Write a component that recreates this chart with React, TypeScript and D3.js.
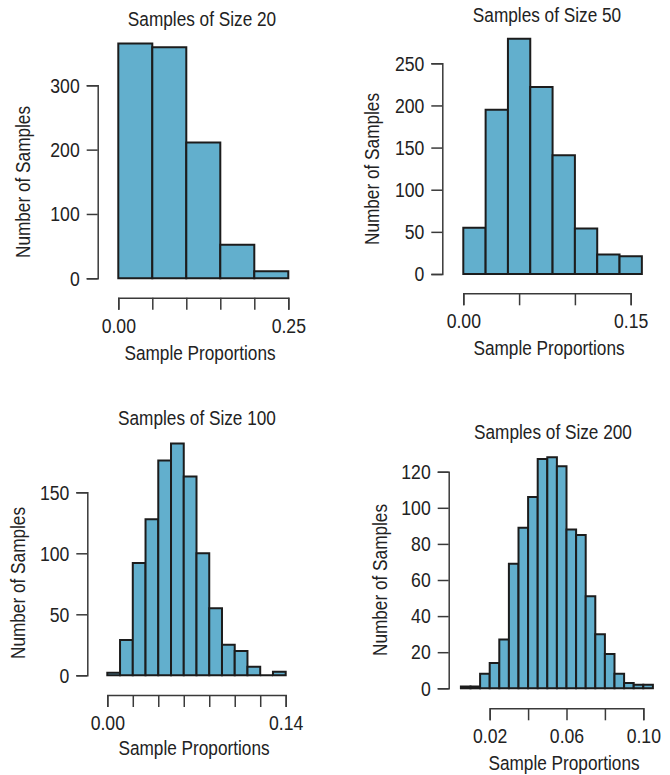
import { useEffect, useRef } from "react";
import * as d3 from "d3";

// Histogram counts (one bar per bin)
const counts20 = [365, 359, 211, 52, 11];
const counts50 = [55, 195, 279, 222, 141, 54, 23, 21];
const counts100 = [2, 29, 92, 128, 176, 190, 163, 100, 55, 25, 20, 7, 0, 3];
const counts200 = [1, 1, 8, 14, 27, 69, 89, 106, 127, 128, 123, 88, 85, 51, 30, 19, 8, 3, 2, 2];

// Bin layout: first edge and bin width
const binStart = [0, 0, 0, 0.005];
const binWidth = [0.05, 0.02, 0.01, 0.005];

const titles = ["Samples of Size 20", "Samples of Size 50", "Samples of Size 100", "Samples of Size 200"];

const xTicks20 = [0, 0.05, 0.1, 0.15, 0.2, 0.25];
const xTicks50 = [0, 0.05, 0.1, 0.15];
const xTicks100 = [0, 0.02, 0.04, 0.06, 0.08, 0.1, 0.12, 0.14];
const xTicks200 = [0.02, 0.04, 0.06, 0.08, 0.1];

const xLabeled20 = [0, 0.25];
const xLabeled50 = [0, 0.15];
const xLabeled100 = [0, 0.14];
const xLabeled200 = [0.02, 0.06, 0.1];

const yTicks20 = [0, 100, 200, 300];
const yTicks50 = [0, 50, 100, 150, 200, 250];
const yTicks100 = [0, 50, 100, 150];
const yTicks200 = [0, 20, 40, 60, 80, 100, 120];

const xLabel = "Sample Proportions";
const yLabel = "Number of Samples";

// Pixel layout of each panel (positions only)
const layouts = [
  { x: [118.3, 288.3], y: [278.3, 85.3], yAxisX: 97.7, xAxisY: 297.7, titleX: 202, titleY: 26, xLabX: 200, xLabY: 360, yLabX: 23, yLabY: 182 },
  { x: [463.3, 630.7], y: [274, 63.3], yAxisX: 442.3, xAxisY: 293.3, titleX: 547, titleY: 22, xLabX: 549, xLabY: 355, yLabX: 372, yLabY: 169 },
  { x: [107.3, 285.7], y: [675.3, 492.3], yAxisX: 87.3, xAxisY: 695, titleX: 197, titleY: 425, xLabX: 194, xLabY: 755, yLabX: 18, yLabY: 583 },
  { x: [489.7, 643.3], y: [688.3, 471.7], yAxisX: 448.7, xAxisY: 708.3, titleX: 553, titleY: 439, xLabX: 564, xLabY: 770, yLabX: 380, yLabY: 580 },
];

const allCounts = [counts20, counts50, counts100, counts200];
const allXTicks = [xTicks20, xTicks50, xTicks100, xTicks200];
const allXLabeled = [xLabeled20, xLabeled50, xLabeled100, xLabeled200];
const allYTicks = [yTicks20, yTicks50, yTicks100, yTicks200];

const FONT = "'Liberation Sans', Arial, sans-serif";
const SQUEEZE = 0.84; // the original uses a condensed face
const TEXT = "#222222";
const AXIS = "#3a3a3a";
const FILL = "#62afcd";

function App() {
  const ref = useRef<SVGSVGElement>(null);

  useEffect(() => {
    const svg = d3.select(ref.current);
    svg.selectAll("*").remove();

    layouts.forEach((lay, i) => {
      const counts = allCounts[i];
      const xt = allXTicks[i];
      const yt = allYTicks[i];
      const labeled = allXLabeled[i];

      const xScale = d3.scaleLinear([xt[0], xt[xt.length - 1]], lay.x);
      const yScale = d3.scaleLinear([yt[0], yt[yt.length - 1]], lay.y);

      const g = svg.append("g");

      // bars (paths so that an empty bin still shows as a line on the base)
      g.selectAll("path.bar")
        .data(counts)
        .enter()
        .append("path")
        .attr("class", "bar")
        .attr("d", (d, k) => {
          const x0 = xScale(binStart[i] + k * binWidth[i]);
          const x1 = xScale(binStart[i] + (k + 1) * binWidth[i]);
          const y0 = yScale(0);
          const y1 = yScale(d);
          return `M${x0},${y0}L${x0},${y1}L${x1},${y1}L${x1},${y0}Z`;
        })
        .attr("fill", FILL)
        .attr("stroke", "#1c1c1c")
        .attr("stroke-width", 2)
        .attr("stroke-linejoin", "miter");

      // y axis
      const yAxis = g
        .append("g")
        .attr("transform", `translate(${lay.yAxisX},0)`)
        .call(d3.axisLeft(yScale).tickValues(yt).tickSizeOuter(0).tickSize(11).tickPadding(7).tickFormat(d3.format("d")));
      yAxis
        .selectAll(".tick text")
        .attr("x", -18 / SQUEEZE)
        .attr("transform", `scale(${SQUEEZE},1)`);

      // x axis
      const fmt = d3.format(".2f");
      const xAxis = g
        .append("g")
        .attr("transform", `translate(0,${lay.xAxisY})`)
        .call(
          d3
            .axisBottom(xScale)
            .tickValues(xt)
            .tickSizeOuter(0)
            .tickSize(12)
            .tickPadding(8)
            .tickFormat((d) => (labeled.some((v) => Math.abs(v - +d) < 1e-9) ? fmt(+d) : ""))
        );
      xAxis.selectAll(".tick text").attr("transform", `scale(${SQUEEZE},1)`);

      [yAxis, xAxis].forEach((ax) => {
        ax.attr("font-family", FONT).attr("font-size", 21);
        ax.select(".domain").attr("stroke", AXIS).attr("stroke-width", 1.5);
        ax.selectAll(".tick line").attr("stroke", AXIS).attr("stroke-width", 1.5);
        ax.selectAll(".tick text").attr("fill", TEXT);
      });

      // title
      g.append("text")
        .attr("transform", `translate(${lay.titleX},${lay.titleY}) scale(${SQUEEZE},1)`)
        .attr("text-anchor", "middle")
        .attr("font-family", FONT)
        .attr("font-size", 20.5)
        .attr("fill", TEXT)
        .text(titles[i]);

      // axis titles
      g.append("text")
        .attr("transform", `translate(${lay.xLabX},${lay.xLabY}) scale(${SQUEEZE},1)`)
        .attr("text-anchor", "middle")
        .attr("font-family", FONT)
        .attr("font-size", 20.5)
        .attr("fill", TEXT)
        .text(xLabel);

      g.append("text")
        .attr("transform", `translate(${lay.yLabX},${lay.yLabY}) rotate(-90) scale(${SQUEEZE},1)`)
        .attr("text-anchor", "middle")
        .attr("dy", "0.35em")
        .attr("font-family", FONT)
        .attr("font-size", 20.5)
        .attr("fill", TEXT)
        .text(yLabel);
    });
  }, []);

  return (
    <svg
      ref={ref}
      width={670}
      height={775}
      style={{ position: "absolute", left: 0, top: 0, background: "#ffffff" }}
    />
  );
}

export default App;
